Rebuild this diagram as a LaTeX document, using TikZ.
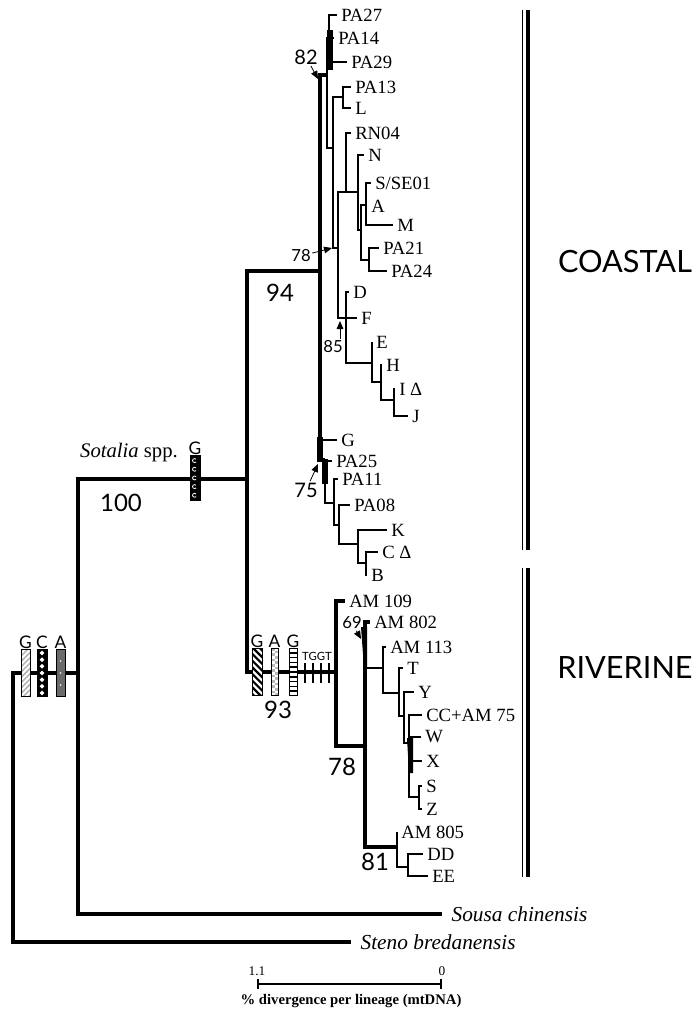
\documentclass[tikz,border=0pt]{standalone}
\usepackage{fontspec}
\setmainfont{Liberation Serif}
\setsansfont{Lato}
\usetikzlibrary{arrows.meta}

\begin{document}
\begin{tikzpicture}[x=0.75pt, y=-0.75pt,
  trunk/.style={line width=2.7pt},
  branch/.style={line width=2pt},
  leaf/.style={anchor=west, inner xsep=3pt, inner ysep=0pt, font=\fontsize{14}{14}\selectfont},
  taxon/.style={anchor=west, inner xsep=7pt, inner ysep=0pt, font=\fontsize{16}{16}\selectfont\itshape},
  suppbig/.style={font=\fontsize{18}{18}\sffamily, inner sep=1pt},
  suppmid/.style={font=\fontsize{15}{15}\sffamily, inner sep=1pt},
  suppsm/.style={font=\fontsize{12.5}{12.5}\sffamily, inner sep=1pt},
  ptr/.style={line width=0.6pt, -{Triangle[length=6pt,width=5pt]}},
  siteltr/.style={font=\fontsize{13}{13}\sffamily, inner sep=0pt},
  mutbox/.style={draw, line width=0.7pt, fill=white, inner sep=0pt, minimum height=35pt,
                 label distance=5pt, label={[siteltr]above:#1}},
  gstripe/.style={path picture={\foreach \k in {-10,...,10}
      \draw[gray!60, line width=1.1pt] ([shift={(-8pt,{\k*4pt-8pt})}]path picture bounding box.center) -- ++(16pt,16pt);}},
  cdiamond/.style={fill=black, path picture={\foreach \k in {-3,...,3}
      \fill[white] ([yshift=\k*5pt]path picture bounding box.center) +(0pt,1.8pt) -- +(1.8pt,0pt) -- +(0pt,-1.8pt) -- +(-1.8pt,0pt) -- cycle;}},
  adots/.style={fill=black!58, path picture={\foreach \k in {-1,0,1}
      \fill[white] ([yshift=\k*9pt]path picture bounding box.center) circle (0.6pt);}},
  gcurl/.style={fill=black, path picture={\foreach \k in {-2,...,2}
      \draw[white, line width=0.6pt] ([shift={(0.8pt,{\k*6.5pt+1pt})}]path picture bounding box.center) arc[start angle=40, end angle=320, radius=1.5pt];}},
  gbold/.style={path picture={\foreach \k in {-10,...,10}
      \draw[line width=1.6pt] ([shift={(-8pt,{\k*5pt+8pt})}]path picture bounding box.center) -- ++(16pt,-16pt);}},
  acheck/.style={path picture={\foreach \k in {-5,...,5} {
      \fill[gray!55] ([shift={(-3pt,{\k*4pt})}]path picture bounding box.center) rectangle ++(3pt,2pt);
      \fill[gray!55] ([shift={(0pt,{\k*4pt-2pt})}]path picture bounding box.center) rectangle ++(3pt,2pt);}}},
  glines/.style={path picture={\foreach \k in {-6,...,6}
      \draw[line width=1.3pt] ([shift={(-5pt,{\k*3.6pt})}]path picture bounding box.center) -- ++(10pt,0pt);}},
  cladename/.style={font=\fontsize{23}{23}\sffamily},
]
\fill[white] (0,0) rectangle (696,1013);
\useasboundingbox (0,0) rectangle (696,1013);

% internal nodes
\coordinate (root) at (13,800);
\coordinate (ing) at (78,673);
\coordinate (sot) at (247,479);
\coordinate (coastal) at (320,271);
\coordinate (c82) at (327,75);
\coordinate (paq) at (329,38);
\coordinate (c78a) at (333,148);
\coordinate (pl) at (343,97);
\coordinate (c78) at (338,248);
\coordinate (rn) at (346,192);
\coordinate (nn) at (358,192);
\coordinate (sam) at (361,230);
\coordinate (sm) at (366,205);
\coordinate (pp) at (369,260);
\coordinate (c85) at (346,318);
\coordinate (ehij) at (372,363);
\coordinate (hij) at (381,382);
\coordinate (ij) at (394,400);
\coordinate (c75) at (325,460);
\coordinate (r1) at (334,503);
\coordinate (r2) at (339,525);
\coordinate (r3) at (358,544);
\coordinate (r4) at (366,563);
\coordinate (riv) at (336,672);
\coordinate (rr) at (365,746);
\coordinate (rt) at (383,668);
\coordinate (rtt) at (399,693);
\coordinate (ry) at (404,716);
\coordinate (rc) at (409,743);
\coordinate (sz) at (419,797);
\coordinate (c81) at (397,847);
\coordinate (dde) at (408,867);

% tips
\node[leaf] (pa27) at (337,15) {PA27};
\node[leaf] (pa14) at (334,38) {PA14};
\node[leaf] (pa29) at (347,62) {PA29};
\node[leaf] (pa13) at (351,87) {PA13};
\node[leaf] (tipl) at (351,108) {L};
\node[leaf] (rn04) at (351,133) {RN04};
\node[leaf] (tipn) at (364,155) {N};
\node[leaf] (sse01) at (371,183) {S/SE01};
\node[leaf] (tipa) at (367,206) {A};
\node[leaf] (tipm) at (393,225) {M};
\node[leaf] (pa21) at (379,248) {PA21};
\node[leaf] (pa24) at (387,271) {PA24};
\node[leaf] (tipd) at (349,292) {D};
\node[leaf] (tipf) at (357,318) {F};
\node[leaf] (tipe) at (372,342) {E};
\node[leaf] (tiph) at (382,365) {H};
\node[leaf] (tipi) at (395,389) {I Δ};
\node[leaf] (tipj) at (408,416) {J};
\node[leaf] (tipg) at (337,440) {G};
\node[leaf] (pa25) at (332,461) {PA25};
\node[leaf] (pa11) at (338,479) {PA11};
\node[leaf] (pa08) at (350,505) {PA08};
\node[leaf] (tipk) at (387,530) {K};
\node[leaf] (tipc) at (378,552) {C Δ};
\node[leaf] (tipb) at (367,575) {B};
\node[leaf] (am109) at (345,601) {AM 109};
\node[leaf] (am802) at (370,622) {AM 802};
\node[leaf] (am113) at (386,647) {AM 113};
\node[leaf] (tipt) at (403,668) {T};
\node[leaf] (tipy) at (414,692) {Y};
\node[leaf] (ccam75) at (422,715) {CC+AM 75};
\node[leaf] (tipw) at (421,737) {W};
\node[leaf] (tipx) at (422,761) {X};
\node[leaf] (tips) at (422,786) {S};
\node[leaf] (tipz) at (422,809) {Z};
\node[leaf] (am805) at (397,832) {AM 805};
\node[leaf] (tipdd) at (423,854) {DD};
\node[leaf] (tipee) at (428,876) {EE};
\node[taxon] (sousa) at (442,914) {Sousa chinensis};
\node[taxon] (steno) at (351,942) {Steno bredanensis};

% branches
\foreach \p/\c in {root/ing, root/steno, ing/sot, ing/sousa, sot/coastal, sot/riv,
                   coastal/c82, coastal/c75, riv/am109, riv/rr, rr/am802, rr/c81}
  \draw[trunk] (\p) |- (\c);
\foreach \p/\c in {coastal/tipg, c82/paq, c82/c78a, paq/pa27, paq/pa14, paq/pa29,
                   c78a/pl, c78a/c78, pl/pa13, pl/tipl, c78/rn, c78/c85, rn/rn04, rn/nn,
                   nn/tipn, nn/sam, sam/sm, sam/pp, sm/sse01, sm/tipa, sm/tipm,
                   pp/pa21, pp/pa24, c85/tipd, c85/tipf, c85/ehij, ehij/tipe, ehij/hij,
                   hij/tiph, hij/ij, ij/tipi, ij/tipj, c75/pa25, c75/r1, r1/pa11, r1/r2,
                   r2/pa08, r2/r3, r3/tipk, r3/r4, r4/tipc, r4/tipb,
                   rr/rt, rt/am113, rt/rtt, rtt/tipt, rtt/ry, ry/tipy, ry/rc,
                   rc/ccam75, rc/tipw, rc/tipx, rc/sz, sz/tips, sz/tipz,
                   c81/am805, c81/dde, dde/tipdd, dde/tipee}
  \draw[branch] (\p) |- (\c);

% collapsed short branches
\fill (327,30) rectangle (333,70);
\fill (317,437) rectangle (323,462);
\fill (322,459) rectangle (327.5,484);
\fill (361,627) -- (367,627) -- (367,668) -- (364,668) -- cycle;
\fill (407,738) -- (413,738) -- (413,773) -- (409,773) -- cycle;

% character changes
\node[mutbox=G, minimum width=6.75pt, gstripe] (mg1) at (25.5,673) {};
\node[mutbox=C, minimum width=7.5pt, cdiamond] (mc1) at (42,673) {};
\node[mutbox=A, minimum width=6.75pt, adots] (ma1) at (60.5,673) {};
\node[mutbox=G, minimum width=7.5pt, minimum height=34pt, gcurl] (mg2) at (195,478) {};
\node[mutbox=G, minimum width=7.5pt, gbold] (mg3) at (257,672) {};
\node[mutbox=A, minimum width=5.25pt, acheck] (ma2) at (274.5,672) {};
\node[mutbox=G, minimum width=6pt, glines] (mg4) at (293,672) {};
\node[font=\fontsize{8.5}{8.5}\sffamily, inner sep=0pt] (tggt) at (317,656) {TGGT};
\foreach \tx in {305,313,321,329}
  \draw[line width=1.5pt] (\tx,663) -- (\tx,683);

\node[font=\fontsize{15.5}{16}\selectfont, inner sep=0pt] (sotlbl) at (129,453) {\textit{Sotalia} spp.};

% support values
\node[suppbig] (b100) at (121,503) {100};
\node[suppbig] (b94) at (280,293) {94};
\node[suppbig] (b93) at (278,710) {93};
\node[suppbig] (b78r) at (342,767) {78};
\node[suppbig] (b81) at (375,862) {81};
\node[suppmid] (b82) at (306,57) {82};
\node[suppmid] (b75) at (306,490) {75};
\node[suppsm] (b78c) at (301,256) {78};
\node[suppsm] (b85) at (333,347) {85};
\node[suppsm] (b69) at (352,623) {69};

\coordinate (a82) at (318,79);
\coordinate (a78c) at (332,248);
\coordinate (a85) at (340,321);
\coordinate (a75) at (318,464);
\coordinate (a69) at (361,639);
\draw[ptr] (b82) -- (a82);
\draw[ptr] (b78c) -- (a78c);
\draw[ptr] (b85.north -| a85) -- (a85);
\draw[ptr] (b75) -- (a75);
\draw[ptr, densely dashed] (b69) -- (a69);

% clade bars
\draw[line width=0.7pt] (522,10) -- (522,550);
\draw[line width=2.6pt] (528,10) -- (528,550);
\draw[line width=0.7pt] (522,568) -- (522,877);
\draw[line width=2.6pt] (528,568) -- (528,877);
\node[cladename] (lcoast) at (625,262) {COASTAL};
\node[cladename] (lriver) at (625,668) {RIVERINE};

% scale bar
\node[font=\fontsize{10}{10}\selectfont, inner sep=0pt] (s11) at (257,971) {1.1};
\node[font=\fontsize{10}{10}\selectfont, inner sep=0pt] (s0) at (442,971) {0};
\coordinate (sbl) at (257,984);
\coordinate (sbr) at (442,984);
\draw[{Bar[width=7pt]}-{Bar[width=7pt]}, line width=1.4pt] (sbl) -- (sbr);
\node[font=\fontsize{11}{11}\selectfont\bfseries, inner sep=0pt] (scap) at (351,1001) {\% divergence per lineage (mtDNA)};
\end{tikzpicture}
\end{document}
